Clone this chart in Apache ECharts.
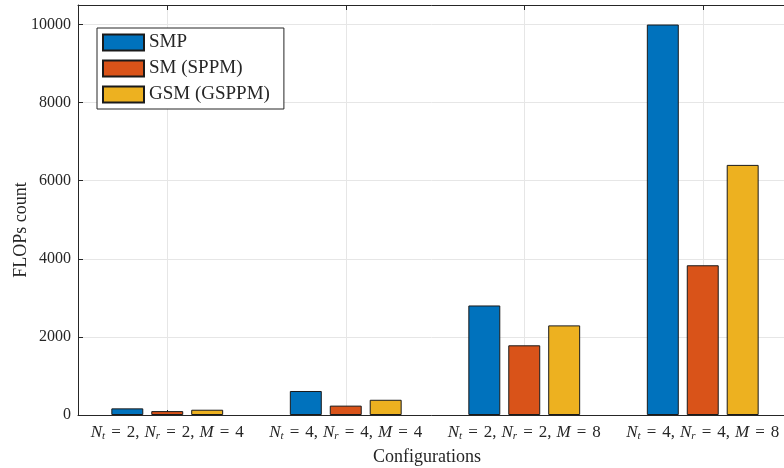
<!DOCTYPE html>
<html>
<head>
<meta charset="utf-8">
<script src="https://cdn.jsdelivr.net/npm/echarts@6/dist/echarts.min.js"></script>
<style>
    html, body { margin: 0; padding: 0; background: #fff; }
    #chart { width: 784px; height: 468px; }
</style>
</head>
<body>
<div id="chart"></div>
<script>
    // configurations (N_t, N_r, M)
    var ntValues = [2, 4, 2, 4];
    var nrValues = [2, 4, 2, 4];
    var mValues = [4, 4, 8, 8];
    var categories = ["N_t = 2, N_r = 2, M = 4", "N_t = 4, N_r = 4, M = 4", "N_t = 2, N_r = 2, M = 8", "N_t = 4, N_r = 4, M = 8"];

    var seriesNames = ["SMP", "SM (SPPM)", "GSM (GSPPM)"];
    var smpData = [170, 615, 2805, 10000];
    var smData = [100, 240, 1785, 3835];
    var gsmData = [135, 390, 2295, 6405];
    var seriesColors = ["#0072BD", "#D95319", "#EDB120"];

    var yTicks = [0, 2000, 4000, 6000, 8000, 10000];

    var fontFamily = "'Liberation Serif', 'DejaVu Serif', serif";
    var textColor = "#262626";

    // N_t = 2, N_r = 2, M = 4 as rich text (italic symbols, subscripts)
    function labelRich(value, idx) {
        return "{i|N}{s|t}{e|=}{c|" + ntValues[idx] + ",}{i|N}{s|r}{e|=}{c|" + nrValues[idx] + ",}{i|M}{e|=}{n|" + mValues[idx] + "}";
    }

    var chart = echarts.init(document.getElementById("chart"));

    function makeBar(name, data, color) {
        return {
            name: name,
            type: "bar",
            barWidth: "17.9%",
            barGap: "25%",
            itemStyle: {
                color: color,
                borderColor: "#1a1a1a",
                borderWidth: 1,
            },
            data: data,
        };
    }

    var option = {
        animation: false,
        backgroundColor: "#ffffff",
        textStyle: { fontFamily: fontFamily, color: textColor },
        grid: {
            left: 78,
            top: 5,
            right: -8,
            bottom: 53,
            containLabel: false,
            outerBoundsMode: "none",
        },
        legend: {
            orient: "vertical",
            left: 97,
            top: 28,
            icon: "rect",
            itemWidth: 41,
            itemHeight: 16,
            itemGap: 7,
            padding: [5, 14, 5, 5],
            borderColor: "#262626",
            borderWidth: 1,
            backgroundColor: "#fff",
            textStyle: { fontFamily: fontFamily, fontSize: 19, color: textColor },
            data: seriesNames,
        },
        xAxis: [
            {
                type: "category",
                data: categories,
                name: "Configurations",
                nameLocation: "middle",
                nameGap: 33,
                nameMoveOverlap: false,
                nameTextStyle: { fontFamily: fontFamily, fontSize: 18, color: textColor, padding: [0, 16, 0, 0] },
                axisLine: { lineStyle: { color: "#262626", width: 1 } },
                axisTick: { show: true, inside: true, alignWithLabel: true, length: 5, lineStyle: { color: "#262626" } },
                axisLabel: {
                    interval: 0,
                    margin: 9,
                    hideOverlap: false,
                    formatter: labelRich,
                    rich: {
                        i: { fontFamily: fontFamily, fontStyle: "italic", fontSize: 17, color: textColor },
                        s: { fontFamily: fontFamily, fontStyle: "italic", fontSize: 11, color: textColor, verticalAlign: "bottom", padding: [7, 0, 0, 0] },
                        e: { fontFamily: fontFamily, fontSize: 17, color: textColor, padding: [0, 6, 0, 6] },
                        c: { fontFamily: fontFamily, fontSize: 17, color: textColor, padding: [0, 5, 0, 0] },
                        n: { fontFamily: fontFamily, fontSize: 17, color: textColor },
                    },
                },
                splitLine: { show: true, alignWithLabel: true, lineStyle: { color: "#e6e6e6", width: 1 } },
            },
            {
                type: "category",
                data: categories,
                position: "top",
                axisLine: { lineStyle: { color: "#262626", width: 1 } },
                axisTick: { show: true, inside: true, alignWithLabel: true, length: 5, lineStyle: { color: "#262626" } },
                axisLabel: { show: false },
                splitLine: { show: false },
            },
        ],
        yAxis: [
            {
                type: "value",
                min: 0,
                max: 10500,
                interval: 2000,
                name: "FLOPs count",
                nameLocation: "middle",
                nameGap: 48,
                nameMoveOverlap: false,
                nameTextStyle: { fontFamily: fontFamily, fontSize: 18, color: textColor, padding: [0, 40, 0, 0] },
                axisLine: { show: true, lineStyle: { color: "#262626", width: 1 } },
                axisTick: { show: true, inside: true, length: 5, lineStyle: { color: "#262626" } },
                axisLabel: {
                    showMaxLabel: false,
                    margin: 7,
                    fontFamily: fontFamily,
                    fontSize: 16,
                    color: textColor,
                    formatter: function (v) { return yTicks.indexOf(v) >= 0 ? String(v) : ""; },
                },
                splitLine: { show: true, lineStyle: { color: "#e6e6e6", width: 1 } },
            },
        ],
        series: [
            makeBar(seriesNames[0], smpData, seriesColors[0]),
            makeBar(seriesNames[1], smData, seriesColors[1]),
            makeBar(seriesNames[2], gsmData, seriesColors[2]),
        ],
    };

    chart.setOption(option);
</script>
</body>
</html>
